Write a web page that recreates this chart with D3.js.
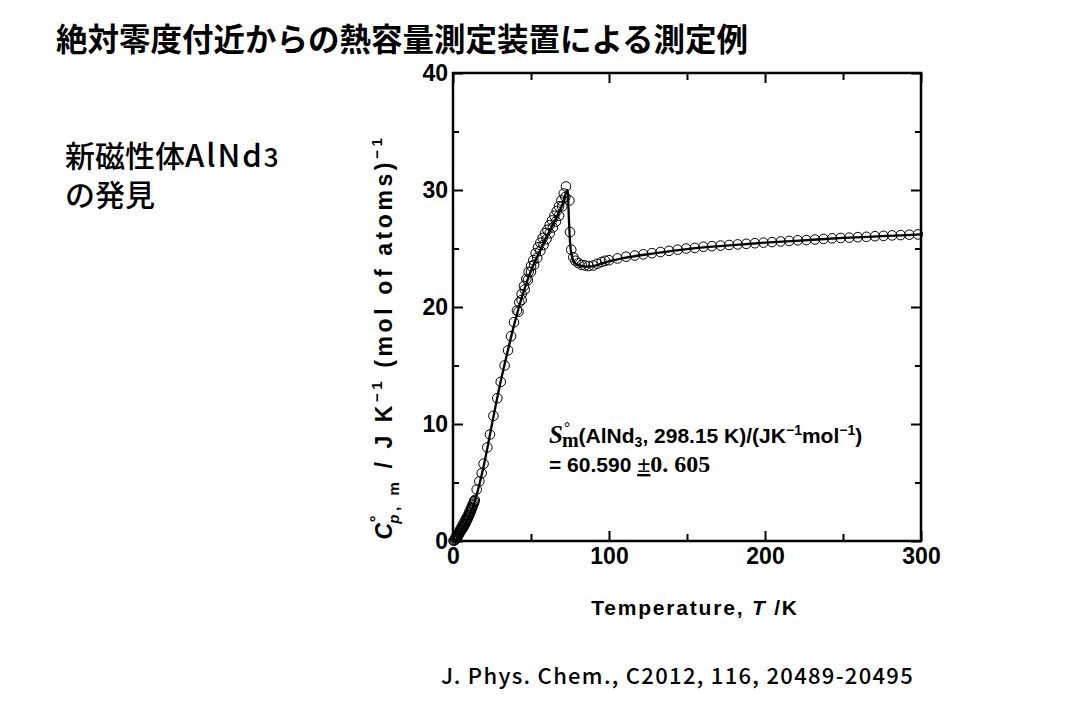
<!DOCTYPE html>
<html><head><meta charset="utf-8">
<script src="https://cdn.jsdelivr.net/npm/d3@7"></script>
<style>
body{margin:0;background:#fff;}
svg{display:block;}
</style></head>
<body>
<script>
// ---- data ----
const lowT  = [0.3,0.8,1.2,1.6,2,2.4,2.8,3.2,3.6,4,4.4,4.8,5.2,5.6,6,6.4,6.8,7.2,7.6,8,8.4,8.8,9.2,9.6,10,10.4,10.8,11.2,11.6,12,12.4,12.8,13.2,13.6,14];
const lowCp = [0.02,0.05,0.09,0.14,0.2,0.27,0.35,0.44,0.53,0.62,0.72,0.82,0.9,0.98,1.06,1.15,1.24,1.33,1.43,1.53,1.64,1.75,1.87,1.99,2.1,2.22,2.35,2.48,2.62,2.76,2.9,3.05,3.2,3.35,3.5];
const low2T  = [1.5,2.5,3.5,4.5,5.5,6.5,7.5,8.5,9.5,10.5,11.5,12.5,13.5];
const low2Cp = [0.3,0.5,0.7,0.95,1.2,1.45,1.7,1.95,2.2,2.5,2.8,3.1,3.4];
const midT  = [15.2,16.9,18.4,19.6,22,23.7,25.9,28.4,30.6,33.1,35.3,37.2,39.1];
const midCp = [4.4,5.1,5.8,6.6,8.0,9.1,10.7,12.2,13.6,15.0,16.3,17.5,18.7];
const upAT  = [41,42.5,44,45.5,47,48.5,50,51.5,53,54.5,56,57.5,59,60.5,62,63.5,65,66.5,68,69.5,71,72.4];
const upACp = [19.7,20.4,21.1,21.8,22.4,23.0,23.5,24.0,24.6,25.1,25.5,25.9,26.3,26.6,27.0,27.4,27.8,28.2,28.6,29.1,29.7,30.3];
const upBT  = [42,44,46,48,50,52,54,56,58,60,62,64,66,68,70,72];
const upBCp = [19.6,20.6,21.5,22.3,23.0,23.6,24.2,24.8,25.3,25.8,26.3,26.8,27.3,27.8,28.6,29.4];
const dropT  = [74.6,75,75.8,77.1,78.5,80.4,82.5,84.6,87,90,92.5,95.3,97.5];
const dropCp = [29.1,26.4,24.9,24.25,23.95,23.75,23.6,23.55,23.5,23.55,23.7,23.85,23.95];
const highT  = [100,105.5,111,116.5,122,127.5,133,138.5,144,149.5,155,160.5,166,171.5,177,182.5,188,193.5,199,204.5,210,215.5,221,226.5,232,237.5,243,248.5,254,259.5,265,270.5,276,281.5,287,292.5,298];
const highCp = [24.0,24.15,24.3,24.4,24.5,24.6,24.7,24.8,24.9,25.0,25.05,25.15,25.2,25.25,25.3,25.35,25.4,25.45,25.5,25.55,25.6,25.65,25.7,25.72,25.77,25.82,25.87,25.9,25.93,25.97,26.0,26.05,26.08,26.12,26.15,26.18,26.2];
const fitT  = [0,3,6,10,14,20,25,30,35,40,45,50,55,60,65,70,73.5,74.3,75.2,76.5,78,80,85,90,95,100,110,130,150,175,200,225,250,275,300];
const fitCp = [0,0.3,1.0,2.0,3.4,6.6,10.0,13.3,16.2,18.9,21.2,23.1,24.6,26.0,27.3,28.7,30.0,27.5,25.2,24.2,23.8,23.6,23.45,23.5,23.7,23.9,24.2,24.6,24.95,25.25,25.5,25.7,25.9,26.05,26.2];
const xMajor = [0,100,200,300];
const xMinor = [50,150,250];
const yMajor = [0,10,20,30,40];
const yMinor = [5,15,25,35];

const W=1087,H=721;
const svg=d3.select("body").append("svg").attr("width",W).attr("height",H);
svg.append("rect").attr("width",W).attr("height",H).attr("fill","#fff");

const x=d3.scaleLinear().domain([0,300]).range([453,921]);
const y=d3.scaleLinear().domain([0,40]).range([541,73]);

const jp="'Noto Sans CJK JP','Noto Sans',sans-serif";
const ar="'Liberation Sans',Arial,sans-serif";
const sr="'Liberation Serif','Times New Roman',serif";

// title and side text
svg.append("text").attr("x",56).attr("y",51).attr("font-family",jp).attr("font-weight",700)
  .attr("font-size",31.5).attr("fill","#000").text("絶対零度付近からの熱容量測定装置による測定例");
const s1=svg.append("text").attr("x",65).attr("y",167).attr("font-family",jp).attr("font-weight",500)
  .attr("font-size",30).attr("fill","#000");
s1.append("tspan").text("新磁性体");
s1.append("tspan").attr("font-size",31).attr("letter-spacing",2).text("AlNd");
s1.append("tspan").attr("font-size",26).text("3");
svg.append("text").attr("x",65).attr("y",206).attr("font-family",jp).attr("font-weight",500)
  .attr("font-size",30).attr("fill","#000").text("の発見");

// axes
function styleAxis(g){
  g.select(".domain").remove();
  g.selectAll(".tick line").attr("stroke","#000").attr("stroke-width",2);
  g.selectAll("text").attr("font-family",ar).attr("font-weight",700).attr("font-size",23).attr("fill","#000");
}
const fmt=d3.format("d");
svg.append("g").attr("transform","translate(0,541)")
  .call(d3.axisBottom(x).tickValues(xMajor).tickFormat(fmt).tickSize(-10).tickPadding(7)).call(styleAxis);
svg.append("g").attr("transform","translate(0,541)")
  .call(d3.axisBottom(x).tickValues(xMinor).tickFormat("").tickSize(-7)).call(styleAxis);
svg.append("g").attr("transform","translate(0,73)")
  .call(d3.axisTop(x).tickValues(xMajor).tickFormat("").tickSize(-10)).call(styleAxis);
svg.append("g").attr("transform","translate(0,73)")
  .call(d3.axisTop(x).tickValues(xMinor).tickFormat("").tickSize(-7)).call(styleAxis);
svg.append("g").attr("transform","translate(453,0)")
  .call(d3.axisLeft(y).tickValues(yMajor).tickFormat(fmt).tickSize(-10).tickPadding(5)).call(styleAxis);
svg.append("g").attr("transform","translate(453,0)")
  .call(d3.axisLeft(y).tickValues(yMinor).tickFormat("").tickSize(-6)).call(styleAxis);
svg.append("g").attr("transform","translate(921,0)")
  .call(d3.axisRight(y).tickValues(yMajor).tickFormat("").tickSize(-10)).call(styleAxis);
svg.append("g").attr("transform","translate(921,0)")
  .call(d3.axisRight(y).tickValues(yMinor).tickFormat("").tickSize(-6)).call(styleAxis);

svg.append("rect").attr("x",x(0)).attr("y",y(40)).attr("width",x(300)-x(0)).attr("height",y(0)-y(40))
  .attr("fill","none").attr("stroke","#000").attr("stroke-width",2.5);

// fit line
const fit=fitT.map((t,i)=>[t,fitCp[i]]);
svg.append("path").datum(fit).attr("fill","none").attr("stroke","#000").attr("stroke-width",2.3)
  .attr("d",d3.line().x(d=>x(d[0])).y(d=>y(d[1])).curve(d3.curveMonotoneX));

// points
const pts=[];
[[lowT,lowCp],[low2T,low2Cp],[midT,midCp],[upAT,upACp],[upBT,upBCp],[dropT,dropCp],[highT,highCp]]
  .forEach(([ts,cs])=>ts.forEach((t,i)=>pts.push([t,cs[i]])));
svg.append("g").selectAll("circle").data(pts).join("circle")
  .attr("cx",d=>x(d[0])).attr("cy",d=>y(d[1])).attr("r",4.8)
  .attr("fill","none").attr("stroke","#000").attr("stroke-width",1);

// axis titles
const xt=svg.append("text").attr("x",695).attr("y",615).attr("text-anchor","middle")
  .attr("font-family",ar).attr("font-weight",700).attr("font-size",21).attr("letter-spacing",1.8).attr("fill","#000");
xt.append("tspan").text("Temperature, ");
xt.append("tspan").attr("font-style","italic").text("T");
xt.append("tspan").text(" /K");

const yt=svg.append("text").attr("transform","translate(392,337) rotate(-90)").attr("text-anchor","middle")
  .attr("font-family",ar).attr("font-weight",700).attr("font-size",23).attr("letter-spacing",3.6).attr("fill","#000");
yt.append("tspan").attr("font-style","italic").text("C");
yt.append("tspan").attr("font-size",17).attr("dy",-10).attr("dx",-3).text("°");
yt.append("tspan").attr("font-size",15).attr("font-style","italic").attr("dx",-12).attr("dy",17).text("p");
yt.append("tspan").attr("font-size",15).text(", m");
yt.append("tspan").attr("dy",-7).text(" / J K");
yt.append("tspan").attr("font-size",15).attr("dy",-10).text("−1");
yt.append("tspan").attr("dy",10).text(" (mol of atoms)");
yt.append("tspan").attr("font-size",15).attr("dy",-10).text("−1");

// annotation
const a1=svg.append("text").attr("x",549).attr("y",443).attr("font-family",ar).attr("font-weight",700)
  .attr("font-size",21).attr("fill","#000");
a1.append("tspan").attr("font-family",sr).attr("font-style","italic").attr("font-size",25).text("S");
a1.append("tspan").attr("font-family",sr).attr("font-size",15).attr("dy",-11).attr("dx",1).text("°");
a1.append("tspan").attr("font-family",sr).attr("font-size",20).attr("dx",-8).attr("dy",15).text("m");
a1.append("tspan").attr("dy",-4).text("(AlNd");
a1.append("tspan").attr("font-size",14).attr("dy",4).text("3");
a1.append("tspan").attr("dy",-4).text(", 298.15 K)/(JK");
a1.append("tspan").attr("font-size",14).attr("dy",-8).text("−1");
a1.append("tspan").attr("dy",8).text("mol");
a1.append("tspan").attr("font-size",14).attr("dy",-8).text("−1");
a1.append("tspan").attr("dy",8).text(")");
const a2=svg.append("text").attr("x",549).attr("y",472).attr("font-family",ar).attr("font-weight",700)
  .attr("font-size",21).attr("fill","#000");
a2.append("tspan").text("= 60.590 ");
a2.append("tspan").attr("font-family",sr).attr("font-size",24).attr("text-decoration","underline").text("±");
a2.append("tspan").attr("font-family",sr).attr("font-size",24).text("0. 605");

// citation
svg.append("text").attr("x",441).attr("y",684).attr("font-family",jp).attr("font-weight",500)
  .attr("font-size",22).attr("letter-spacing",1.3).attr("fill","#000").text("J. Phys. Chem., C2012, 116, 20489-20495");
</script>
</body></html>
